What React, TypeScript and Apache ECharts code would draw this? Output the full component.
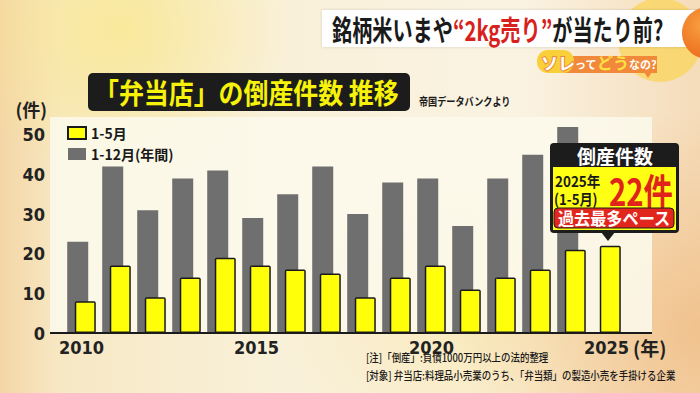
import React, { useEffect, useRef } from "react";
import * as echarts from "echarts";

const years = ["2010","2011","2012","2013","2014","2015","2016","2017","2018","2019","2020","2021","2022","2023","2024","2025"];
const janToMay = [8, 17, 9, 14, 19, 17, 16, 15, 9, 14, 17, 11, 14, 16, 21, 22];
const fullYear = [23, 42, 31, 39, 41, 29, 35, 42, 30, 38, 39, 27, 39, 45, 52, null];
const seriesNames = ["1-5月", "1-12月(年間)"];
const titleText = "「弁当店」の倒産件数 推移";
const sourceText = "帝国データバンクより";
const noteLines = [
  "[注]「倒産」:負債1000万円以上の法的整理",
  "[対象] 弁当店:料理品小売業のうち、「弁当類」の製造小売を手掛ける企業",
];

const JP = '"Noto Sans CJK JP", "Noto Sans", sans-serif';
const NUM = '"Liberation Sans Narrow", "DejaVu Sans Condensed", "Noto Sans", sans-serif';

export default function App() {
  const ref = useRef<HTMLDivElement>(null);
  useEffect(() => {
    document.body.style.margin = "0";
    const chart = echarts.init(ref.current!, null, { renderer: "svg" });
    const txt = (x: number, y: number, text: string, size: number, fill: string, opts: any = {}) => ({
      type: "text",
      x,
      y,
      scaleX: opts.scaleX ?? 1,
      z: opts.z ?? 20,
      style: {
        text,
        fill,
        fontSize: size,
        fontWeight: opts.weight ?? "bold",
        fontFamily: opts.family ?? JP,
        textAlign: opts.align ?? "left",
        textVerticalAlign: "middle",
        stroke: opts.stroke,
        lineWidth: opts.lineWidth,
        rich: opts.rich,
      },
    });
    const option: any = {
      animation: false,
      backgroundColor: "transparent",
      grid: { left: 64, width: 560, top: 115, height: 218 },
      legend: {
        left: 62,
        top: 121,
        orient: "vertical",
        itemWidth: 18,
        itemHeight: 12,
        itemGap: 7,
        icon: "rect",
        data: [seriesNames[0], seriesNames[1]],
        textStyle: { fontSize: 14, fontWeight: "bold", color: "#1a1a1a", fontFamily: JP },
      },
      xAxis: {
        type: "category",
        data: years,
        axisLine: { show: false },
        axisTick: { show: false },
        axisLabel: {
          interval: 4,
          margin: 5,
          fontSize: 18,
          fontWeight: "bold",
          color: "#222222",
          fontFamily: NUM,
        },
      },
      yAxis: {
        type: "value",
        min: 0,
        max: 55,
        interval: 10,
        splitLine: { show: false },
        axisLine: { show: false },
        axisTick: { show: false },
        axisLabel: {
          margin: 19,
          fontSize: 18,
          fontWeight: "bold",
          color: "#222222",
          fontFamily: NUM,
          formatter: (v: number) => (v % 10 === 0 ? String(v) : ""),
        },
      },
      series: [
        {
          name: seriesNames[1],
          type: "bar",
          data: fullYear,
          barWidth: 21,
          barGap: "-64%",
          itemStyle: { color: "#6f6f6f" },
          z: 3,
        },
        {
          name: seriesNames[0],
          type: "bar",
          data: janToMay,
          barWidth: 21,
          barGap: "-64%",
          itemStyle: { color: "#ffff0a", borderColor: "#1a1a1a", borderWidth: 1.5, borderRadius: 1 },
          z: 4,
        },
      ],
      graphic: [
        { type: "rect", z: -5, shape: { x: 50, y: 117, width: 602, height: 216 }, style: { fill: "rgba(252,249,236,0.88)" } },
        { type: "line", z: 10, shape: { x1: 50, y1: 333, x2: 652, y2: 333 }, style: { stroke: "#1a1a1a", lineWidth: 2 } },
        txt(47, 109, "(件)", 18, "#222222", { align: "right", weight: "bold" }),
        txt(633, 347, "(年)", 19, "#222222", { weight: "bold" }),
        { type: "rect", z: 15, shape: { x: 88, y: 73, width: 322, height: 38, r: 5 }, style: { fill: "#1c1c1c" } },
        txt(94, 92, titleText, 28, "#f7f20a", { scaleX: 0.89 }),
        txt(419, 101, sourceText, 11, "#1a1a1a", { scaleX: 0.83 }),
        { type: "circle", z: 1, shape: { cx: 660, cy: 40, r: 42 }, style: { fill: "rgba(250,212,90,0.75)" } },
        { type: "rect", z: 16, shape: { x: 322, y: 10, width: 400, height: 37 }, style: { fill: "#ffffff", shadowBlur: 3, shadowColor: "rgba(0,0,0,0.15)" } },
        txt(332, 29, "{a|銘柄米いまや}{b|“2kg売り”}{a|が当たり前?}", 28, "#1a1a1a", {
          scaleX: 0.72,
          z: 17,
          rich: {
            a: { fontSize: 28, fontWeight: "bold", fill: "#1a1a1a", fontFamily: JP },
            b: { fontSize: 28, fontWeight: "bold", fill: "#d8201c", fontFamily: JP },
          },
        }),
        {
          type: "circle",
          z: 18,
          shape: { cx: 708, cy: 33, r: 26 },
          style: {
            fill: new echarts.graphic.RadialGradient(0.4, 0.35, 0.7, [
              { offset: 0, color: "#f8a040" },
              { offset: 1, color: "#ec6a1c" },
            ]),
          },
        },
        { type: "rect", z: 18, shape: { x: 548, y: 56, width: 109, height: 17 }, style: { fill: "#f08a3a" } },
        { type: "polygon", z: 18, shape: { points: [[644, 72], [652, 72], [648, 78]] }, style: { fill: "#f08a3a" } },
        { type: "rect", z: 19, shape: { x: 537, y: 50, width: 37, height: 23, r: 11 }, style: { fill: "#f9d03a" } },
        txt(541, 62, "{s|ソレ}{t|って}{d|どう}{t|なの?}", 16, "#ffffff", {
          z: 20,
          rich: {
            s: { fontSize: 17, fontWeight: "bold", fill: "#ffffff", stroke: "#f08a3a", lineWidth: 2, fontFamily: JP },
            t: { fontSize: 11, fontWeight: "bold", fill: "#ffffff", fontFamily: JP, padding: [3, 0, 0, 0] },
            d: { fontSize: 16, fontWeight: "bold", fill: "#ffe040", fontFamily: JP },
          },
        }),
        { type: "rect", z: 30, shape: { x: 550, y: 143, width: 129, height: 90, r: 4 }, style: { fill: "#1c1c1c" } },
        { type: "polygon", z: 30, shape: { points: [[601, 232], [615, 232], [608, 241]] }, style: { fill: "#1c1c1c" } },
        { type: "rect", z: 31, shape: { x: 553, y: 167, width: 123, height: 63 }, style: { fill: "#ffff14" } },
        txt(615, 155, "倒産件数", 19, "#ffffff", { align: "center", z: 32 }),
        txt(555, 180, "2025年", 15, "#1a1a1a", { scaleX: 0.9, z: 32 }),
        txt(554, 199, "(1-5月)", 15, "#1a1a1a", { scaleX: 0.88, z: 32 }),
        txt(609, 190, "22件", 38, "#e0241b", { scaleX: 0.77, z: 32 }),
        { type: "rect", z: 33, shape: { x: 554, y: 208, width: 120, height: 20, r: 4 }, style: { fill: "#e3261d", stroke: "#1c1c1c", lineWidth: 1 } },
        txt(614, 218, "過去最多ペース", 17, "#ffffff", { align: "center", scaleX: 0.95, z: 34 }),
        txt(366, 357, noteLines[0], 11, "#1a1a1a", { scaleX: 0.86, weight: 500 }),
        txt(366, 375, noteLines[1], 11, "#1a1a1a", { scaleX: 0.86, weight: 500 }),
      ],
    };
    chart.setOption(option);
    return () => chart.dispose();
  }, []);

  return (
    <div
      style={{
        position: "relative",
        width: 700,
        height: 393,
        overflow: "hidden",
        background:
          "radial-gradient(ellipse 170px 150px at 120px 30px, rgba(250,232,130,0.65), rgba(250,232,130,0) 100%)," +
          "radial-gradient(ellipse 240px 220px at 700px 330px, rgba(240,188,130,0.8), rgba(240,188,130,0) 100%)," +
          "radial-gradient(ellipse 200px 160px at 480px 320px, rgba(248,224,150,0.5), rgba(248,224,150,0) 100%)," +
          "linear-gradient(90deg, #f4d6a6 0px, #f7e8c4 60px, #f9f0d8 260px, #faf3e2 520px, #f5dcba 700px)",
      }}
    >
      <div ref={ref} style={{ width: 700, height: 393 }} />
    </div>
  );
}
